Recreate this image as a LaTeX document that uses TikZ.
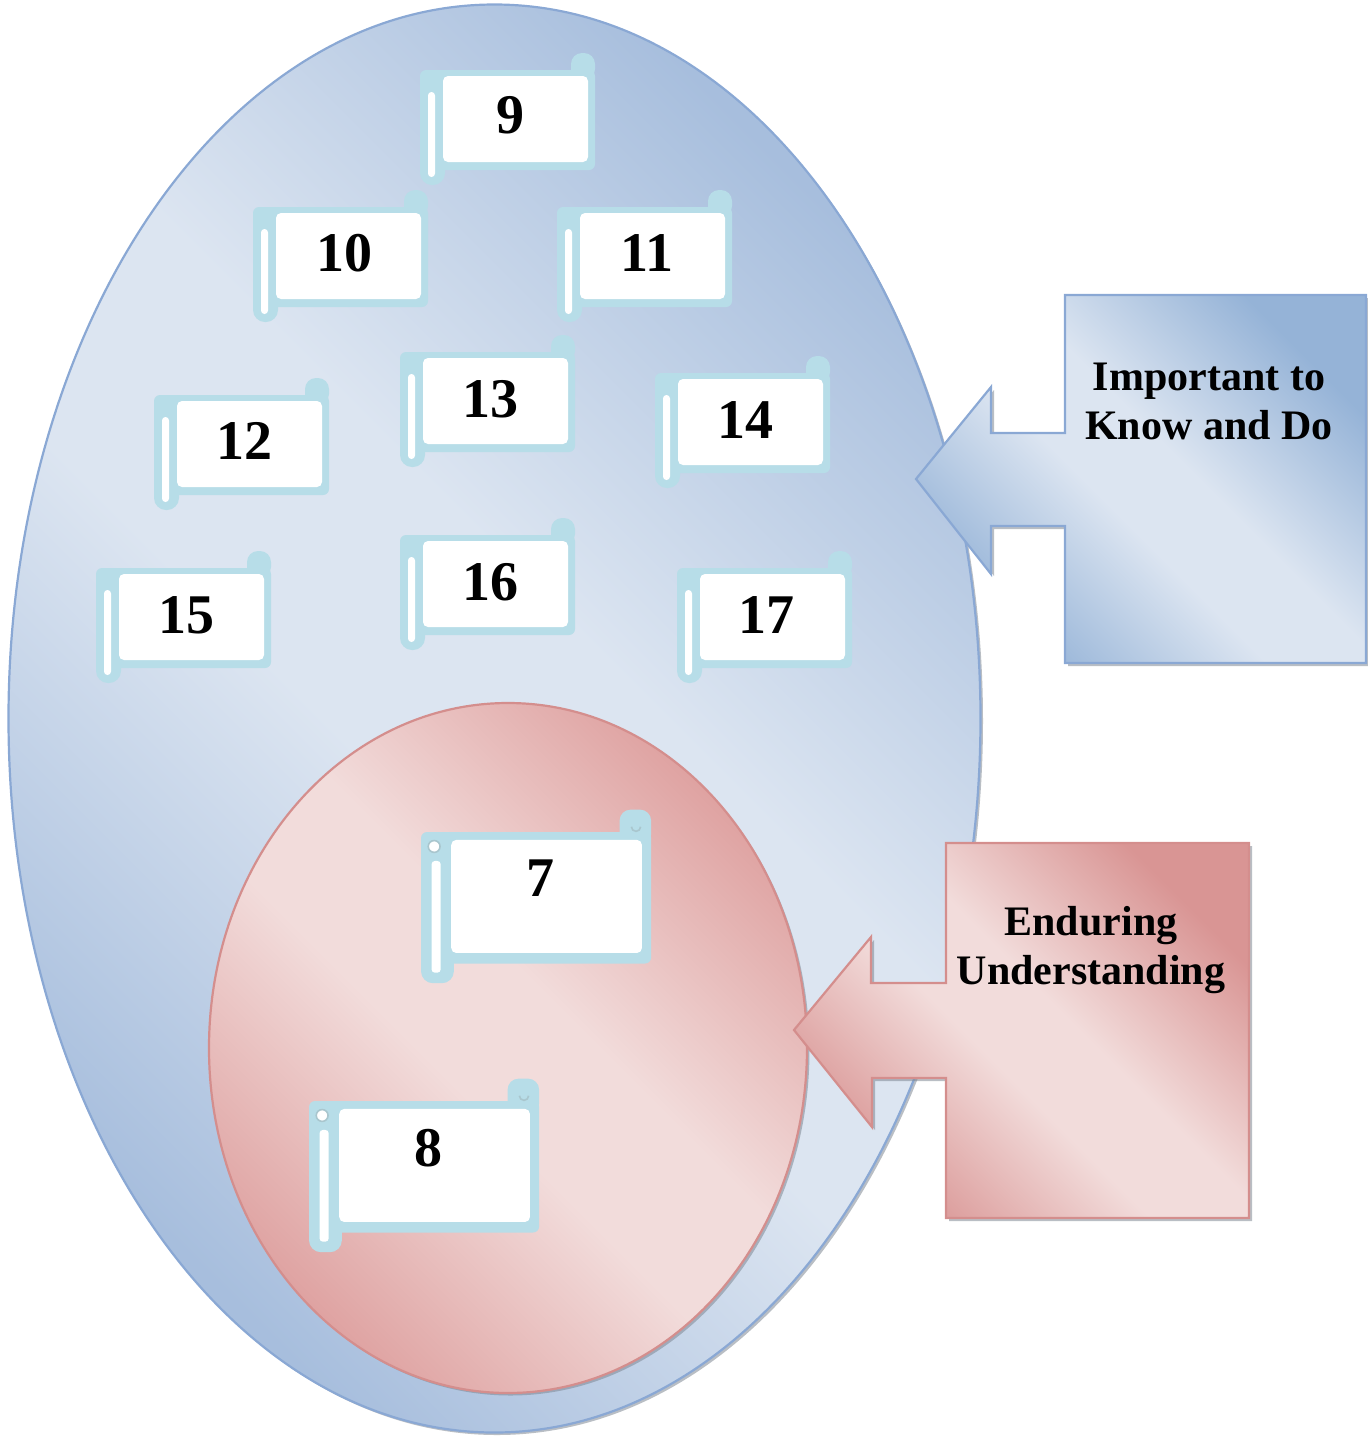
\documentclass[tikz,border=0pt]{standalone}
\usepackage{fontspec}
\setmainfont{Liberation Serif}
\definecolor{bluedark}{HTML}{95B3D7}
\definecolor{bluemid}{HTML}{A7BEDD}
\definecolor{bluelight}{HTML}{DCE5F1}
\definecolor{blueedge}{HTML}{8AA8D4}
\definecolor{pinkdark}{HTML}{D99594}
\definecolor{pinkmid}{HTML}{DFA3A2}
\definecolor{pinklight}{HTML}{F2DCDB}
\definecolor{pinkedge}{HTML}{D48E8D}
\definecolor{scrollblue}{HTML}{B7DDE8}
\definecolor{shadowgrey}{HTML}{7F8894}

% diagonal gradients: darker at both ends, a light band in between
\pgfdeclareverticalshading{calloutblue}{100bp}{color(0bp)=(bluedark); color(25bp)=(bluedark);
  color(45bp)=(bluelight); color(55bp)=(bluelight); color(75bp)=(bluedark); color(100bp)=(bluedark)}
\pgfdeclareverticalshading{ovalblue}{100bp}{color(0bp)=(bluemid); color(25bp)=(bluemid);
  color(45bp)=(bluelight); color(55bp)=(bluelight); color(75bp)=(bluemid); color(100bp)=(bluemid)}
\pgfdeclareverticalshading{calloutpink}{100bp}{color(0bp)=(pinkdark); color(25bp)=(pinkdark);
  color(45bp)=(pinklight); color(55bp)=(pinklight); color(75bp)=(pinkdark); color(100bp)=(pinkdark)}
\pgfdeclareverticalshading{ovalpink}{100bp}{color(0bp)=(pinkmid); color(25bp)=(pinkmid);
  color(45bp)=(pinklight); color(55bp)=(pinklight); color(75bp)=(pinkmid); color(100bp)=(pinkmid)}

\tikzset{
  bluefill/.style={shading=calloutblue, shading angle=-45},
  blueoval/.style={shading=ovalblue, shading angle=-45},
  pinkfill/.style={shading=calloutpink, shading angle=-45},
  pinkoval/.style={shading=ovalpink, shading angle=-45},
  shadowfill/.style={fill=shadowgrey, fill opacity=0.55},
  numtext/.style={font=\bfseries\fontsize{28}{30}\selectfont, inner sep=0pt},
  calltext/.style={font=\bfseries\fontsize{21}{24.5}\selectfont, align=center, inner sep=0pt},
}

% a rolled paper note, drawn from its top-left corner (#1,#2); #3 = scale
\newcommand\paperroll[3]{%
  \begin{scope}[shift={(#1,#2)}, scale=#3]
    \fill[scrollblue, rounded corners=3pt] (0,0) rectangle (175,100);
    \fill[scrollblue, rounded corners=5.5pt] (151,-17) rectangle (175,10);
    \fill[scrollblue, rounded corners=6pt] (0,0) rectangle (25,115);
    \fill[white, rounded corners=2.5pt] (23,6) rectangle (168,92);
    \fill[white, rounded corners=1.7pt] (8,22) rectangle (15,107);
  \end{scope}}

% curled ends shown on the larger notes
\newcommand\rollcurls[3]{%
  \begin{scope}[shift={(#1,#2)}, scale=#3]
    \fill[white] (10,11) circle (4.5);
    \draw[scrollblue!75!gray, line width=0.8] (10,11) circle (4.5);
    \draw[scrollblue!75!gray, line width=0.8] (160,-4) arc[start angle=180, end angle=0, radius=3.5];
  \end{scope}}

\begin{document}
\begin{tikzpicture}[x=0.5pt, y=-0.5pt]
  \useasboundingbox (0,0) rectangle (1368,1437);

  % outer ellipse
  \fill[shadowfill] (497,721) ellipse [x radius=486, y radius=714];
  \shade[blueoval, draw=blueedge, line width=1.1] (494.5,718.5) ellipse [x radius=486, y radius=714];

  % notes in the outer ellipse
  \paperroll{420}{70}{1}
  \paperroll{253}{207}{1}
  \paperroll{557}{207}{1}
  \paperroll{154}{395}{1}
  \paperroll{400}{352}{1}
  \paperroll{655}{373}{1}
  \paperroll{96}{568}{1}
  \paperroll{400}{535}{1}
  \paperroll{677}{568}{1}
  \node[numtext] (n9)  at (510,115) {9};
  \node[numtext] (n10) at (344,253) {10};
  \node[numtext] (n11) at (647,253) {11};
  \node[numtext] (n12) at (244,441) {12};
  \node[numtext] (n13) at (490,399) {13};
  \node[numtext] (n14) at (745,420) {14};
  \node[numtext] (n15) at (186,615) {15};
  \node[numtext] (n16) at (490,582) {16};
  \node[numtext] (n17) at (766,615) {17};

  % inner ellipse
  \fill[shadowfill] (510.5,1050.5) ellipse [x radius=299, y radius=345];
  \shade[pinkoval, draw=pinkedge, line width=1.1] (508,1048) ellipse [x radius=299, y radius=345];

  % notes in the inner ellipse
  \paperroll{421}{832}{1.315}
  \rollcurls{421}{832}{1.315}
  \paperroll{309}{1101}{1.315}
  \rollcurls{309}{1101}{1.315}
  \node[numtext] (n7) at (540,878)  {7};
  \node[numtext] (n8) at (428,1148) {8};

  % callout: important to know and do
  \fill[shadowfill] (1068,298) -- (1369,298) -- (1369,666) -- (1068,666) -- (1068,529) -- (994,529)
    -- (994,576) -- (919,481) -- (994,390) -- (994,435) -- (1068,435) -- cycle;
  \shade[bluefill, draw=blueedge, line width=1.1] (1065,295) -- (1366,295) -- (1366,663) -- (1065,663)
    -- (1065,526) -- (991,526) -- (991,574) -- (916,479) -- (991,387) -- (991,433) -- (1065,433) -- cycle;
  \node[calltext] (tImportant) at (1209,401) {Important to\\Know and Do};

  % callout: enduring understanding
  \fill[shadowfill] (949,846) -- (1252,846) -- (1252,1221) -- (949,1221) -- (949,1081) -- (875,1081)
    -- (875,1130) -- (797,1033) -- (874,940) -- (874,986) -- (949,986) -- cycle;
  \shade[pinkfill, draw=pinkedge, line width=1.1] (946,843) -- (1249,843) -- (1249,1218) -- (946,1218)
    -- (946,1078) -- (872,1078) -- (872,1127) -- (794,1030) -- (871,937) -- (871,983) -- (946,983) -- cycle;
  \node[calltext] (tEnduring) at (1091,950) {Enduring\\Understanding};
\end{tikzpicture}
\end{document}
